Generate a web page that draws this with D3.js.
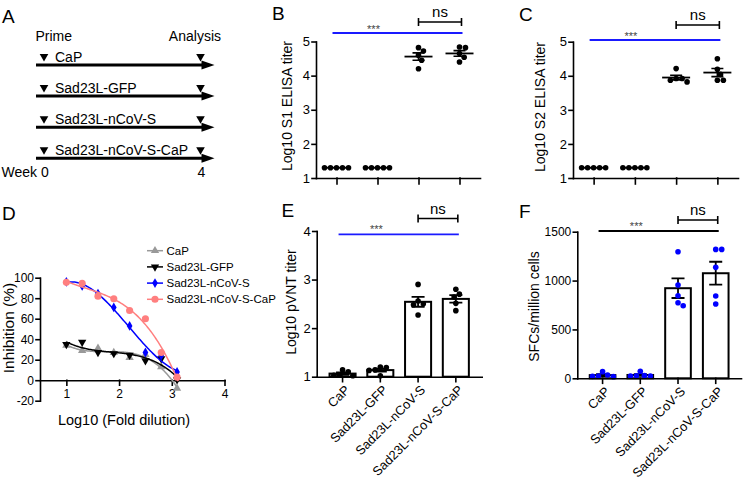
<!DOCTYPE html>
<html><head><meta charset="utf-8">
<script src="https://cdn.jsdelivr.net/npm/d3@7"></script>
<style>
body{margin:0;background:#fff;}
svg{display:block;}
</style></head><body>
<svg id="chart" width="751" height="479"></svg>
<script>
// ---------------- DATA ----------------
const groups = ["CaP", "Sad23L-GFP", "Sad23L-nCoV-S", "Sad23L-nCoV-S-CaP"];
const weeks = [0, 4];

// Panel B: Log10 S1 ELISA titer
const s1Titer = [
  [1.3, 1.3, 1.3, 1.3, 1.3],
  [1.3, 1.3, 1.3, 1.3, 1.3],
  [4.82, 4.72, 4.6, 4.45, 4.2],
  [4.84, 4.82, 4.65, 4.54, 4.4]
];
// Panel C: Log10 S2 ELISA titer
const s2Titer = [
  [1.3, 1.3, 1.3, 1.3, 1.3],
  [1.3, 1.3, 1.3, 1.3, 1.3],
  [4.21, 3.92, 3.92, 3.87, 3.82],
  [4.5, 4.19, 4.04, 3.87, 3.87]
];
// Panel D: inhibition curves
const logDilution = [1.0, 1.3, 1.6, 1.9, 2.2, 2.5, 2.8, 3.1];
const inhCaP   = [34, 29, 31, 27, 22, 25, 13, -8];
const inhGFP   = [35, 37, 27, 26, 24.5, 19, 21, 0.5];
const inhS     = [96, 92, 84.5, 71, 53, 27, 24, 8];
const inhSCaP  = [95.5, 94.5, 82, 79.5, 68, 60, 27, 3];
// Panel E: Log10 pVNT titer
const pvnt = [
  [1.14, 1.1, 1.03, 1.02, 1.03],
  [1.2, 1.19, 1.14, 1.13, 1.02],
  [2.9, 2.56, 2.5, 2.48, 2.27],
  [2.8, 2.7, 2.64, 2.51, 2.36]
];
// Panel F: SFCs/million cells
const sfc = [
  [68, 17, 23, 34, 20],
  [72, 23, 23, 27, 25],
  [1295, 954, 845, 773, 742],
  [1319, 1319, 1135, 842, 760]
];
const ticksB = [1, 2, 3, 4, 5];
const ticksD_x = [1, 2, 3, 4];
const ticksD_y = [-20, 0, 20, 40, 60, 80, 100];
const ticksE = [1, 2, 3, 4];
const ticksF = [0, 500, 1000, 1500];

// ---------------- HELPERS ----------------
const FONT = "'Liberation Sans', Arial, Helvetica, sans-serif";
const svg = d3.select("#chart").attr("font-family", FONT);
const R = 2.8;

function styleAxis(g, fs) {
  g.attr("font-family", FONT).attr("font-size", fs || 12);
  g.selectAll("path, line").attr("stroke", "#000").attr("stroke-width", 1.6).attr("stroke-linecap", "square");
  g.selectAll("text").attr("fill", "#000");
}

function swarmOffsets(pys, r) {
  const D = 2 * r;
  const placed = [];
  const offs = new Array(pys.length);
  const order = d3.range(pys.length).sort((a, b) => pys[a] - pys[b]);
  for (const i of order) {
    const y = pys[i];
    const cands = [0];
    placed.forEach(p => {
      const dy = Math.abs(p.y - y);
      if (dy < D) { const dx = Math.sqrt(D * D - dy * dy); cands.push(p.x + dx, p.x - dx); }
    });
    cands.sort((a, b) => (Math.abs(a) - Math.abs(b)) || (b - a));
    let best = 0;
    for (const c of cands) {
      if (placed.every(p => (p.x - c) ** 2 + (p.y - y) ** 2 >= D * D - 0.01)) { best = c; break; }
    }
    placed.push({ x: best, y }); offs[i] = best;
  }
  return offs;
}

function sem(v) { const d = d3.deviation(v); return d ? d / Math.sqrt(v.length) : 0; }

function sigMarks(g, cx, o) {
  const x0 = cx(groups[0]) - 4, x1 = cx(groups[3]) + 3;
  g.append("line").attr("x1", x0).attr("x2", x1).attr("y1", o.lineY).attr("y2", o.lineY)
    .attr("stroke", o.lineColor).attr("stroke-width", 1.8);
  g.append("text").attr("x", cx(groups[1]) - 4).attr("y", o.starY).attr("text-anchor", "middle")
    .attr("font-size", 11).attr("fill", "#444").text("***");
  const b0 = cx(groups[2]), b1 = cx(groups[3]) + 2, by = o.nsY;
  g.append("path").attr("d", `M${b0},${by - 4}V${by + 4}M${b0},${by}H${b1}M${b1},${by - 4}V${by + 4}`)
    .attr("stroke", "#000").attr("stroke-width", 1.6).attr("fill", "none");
  g.append("text").attr("x", (b0 + b1) / 2).attr("y", by - 5).attr("text-anchor", "middle")
    .attr("font-size", 15).attr("fill", "#000").text("ns");
}

function panelLetter(t, x, y) {
  svg.append("text").attr("x", x).attr("y", y).attr("font-size", 19).attr("fill", "#000").text(t);
}

function yTitle(t, x, y, fs) {
  svg.append("text").attr("transform", `translate(${x},${y}) rotate(-90)`).attr("text-anchor", "middle")
    .attr("font-size", fs || 14).attr("fill", "#000").text(t);
}

// ---------------- PANEL A ----------------
(function () {
  const g = svg.append("g");
  const wx = d3.scaleLinear().domain(weeks).range([44, 200.5]);
  const ly = d3.scalePoint().domain(groups).range([65, 158.3]);
  g.append("text").attr("x", 35.5).attr("y", 40.5).attr("font-size", 14).text("Prime");
  g.append("text").attr("x", 221).attr("y", 40.5).attr("text-anchor", "end").attr("font-size", 14).text("Analysis");
  groups.forEach(d => {
    const y = ly(d);
    g.append("line").attr("x1", wx(0) - 8).attr("x2", wx(4) + 4).attr("y1", y).attr("y2", y)
      .attr("stroke", "#000").attr("stroke-width", 3);
    g.append("path").attr("d", `M${wx(4) + 1},${y - 4.5}L${wx(4) + 14},${y}L${wx(4) + 1},${y + 4.5}Z`).attr("fill", "#000");
    weeks.forEach(w => {
      const x = wx(w);
      g.append("path").attr("d", `M${x - 4.3},${y - 11}L${x + 4.3},${y - 11}L${x},${y - 3.5}Z`).attr("fill", "#000");
    });
    g.append("text").attr("x", 55).attr("y", y - 3.3).attr("font-size", 14).text(d);
  });
  g.append("text").attr("x", 37).attr("y", 176.5).attr("text-anchor", "end").attr("font-size", 14).text("Week");
  weeks.forEach(w => {
    g.append("text").attr("x", wx(w) + 1).attr("y", 176.5).attr("text-anchor", "middle").attr("font-size", 14).text(w);
  });
})();
panelLetter("A", 2, 22.5);

// ---------------- PANELS B, C ----------------
function dotPanel(o) {
  const g = svg.append("g");
  const x = d3.scalePoint().domain(groups).range(o.xr).padding(0.5);
  const y = d3.scaleLinear().domain([1, 5]).range(o.yr);
  g.append("g").attr("transform", `translate(${o.xr[0]},0)`)
    .call(d3.axisLeft(y).tickValues(ticksB).tickFormat(d3.format("d")).tickSize(4).tickSizeOuter(0).tickPadding(2))
    .call(styleAxis, 13);
  g.append("g").attr("transform", `translate(0,${o.yr[0]})`)
    .call(d3.axisBottom(x).tickSize(6).tickSizeOuter(0).tickFormat(""))
    .call(styleAxis);
  o.data.forEach((vals, i) => {
    const cx = x(groups[i]);
    const m = d3.mean(vals), se = sem(vals);
    const pys = vals.map(y);
    const offs = swarmOffsets(pys, R + 0.2);
    g.append("line").attr("x1", cx - 14).attr("x2", cx + 14).attr("y1", y(m)).attr("y2", y(m))
      .attr("stroke", "#000").attr("stroke-width", 1.8);
    if (se > 0) {
      g.append("path").attr("d", `M${cx},${y(m - se)}V${y(m + se)}M${cx - 6},${y(m - se)}H${cx + 6}M${cx - 6},${y(m + se)}H${cx + 6}`)
        .attr("stroke", "#000").attr("stroke-width", 1.6).attr("fill", "none");
    }
    g.selectAll(null).data(vals).join("circle")
      .attr("cx", (d, j) => cx + offs[j]).attr("cy", d => y(d)).attr("r", R).attr("fill", "#000");
  });
  sigMarks(g, d => x(d), o.sig);
}

dotPanel({ data: s1Titer, xr: [316, 480], yr: [178, 41.5],
  sig: { lineY: 33, lineColor: "#1a1aff", starY: 33, nsY: 22 } });
yTitle("Log10 S1 ELISA titer", 292, 106, 14);
panelLetter("B", 272, 20);

dotPanel({ data: s2Titer, xr: [573, 738], yr: [178, 41.7],
  sig: { lineY: 40, lineColor: "#1a1aff", starY: 40, nsY: 25 } });
yTitle("Log10 S2 ELISA titer", 545, 107, 14);
panelLetter("C", 519, 20.5);

// ---------------- PANEL D ----------------
function polyfit(xs, ys, deg) {
  const n = deg + 1;
  const A = d3.range(n).map(() => new Array(n + 1).fill(0));
  xs.forEach((xv, i) => {
    for (let r = 0; r < n; r++) {
      for (let c = 0; c < n; c++) A[r][c] += Math.pow(xv, r + c);
      A[r][n] += ys[i] * Math.pow(xv, r);
    }
  });
  for (let c = 0; c < n; c++) {
    let p = c;
    for (let r = c + 1; r < n; r++) if (Math.abs(A[r][c]) > Math.abs(A[p][c])) p = r;
    [A[c], A[p]] = [A[p], A[c]];
    for (let r = 0; r < n; r++) {
      if (r !== c) { const f = A[r][c] / A[c][c]; for (let k = c; k <= n; k++) A[r][k] -= f * A[c][k]; }
    }
  }
  const coef = A.map((row, i) => row[n] / row[i]);
  return xv => coef.reduce((s, cf, k) => s + cf * Math.pow(xv, k), 0);
}

(function () {
  const g = svg.append("g");
  const x = d3.scaleLinear().domain([0.5, 4]).range([40, 224.5]);
  const y = d3.scaleLinear().domain([-20, 100]).range([400.7, 277.7]);
  g.append("g").attr("transform", `translate(40,0)`)
    .call(d3.axisLeft(y).tickValues(ticksD_y).tickFormat(d => String(d)).tickSize(4).tickSizeOuter(0).tickPadding(2))
    .call(styleAxis, 12);
  g.append("g").attr("transform", `translate(0,${y(0)})`)
    .call(d3.axisBottom(x).tickValues(ticksD_x).tickFormat(d => String(d)).tickSize(5).tickSizeOuter(0).tickPadding(4))
    .call(styleAxis, 12);

  const series = [
    { name: groups[0], vals: inhCaP, color: "#999999", sym: d3.symbolTriangle, rot: 0, size: 30 },
    { name: groups[1], vals: inhGFP, color: "#000000", sym: d3.symbolTriangle, rot: 180, size: 30 },
    { name: groups[2], vals: inhS, color: "#0000ff", sym: d3.symbolDiamond, rot: 0, size: 28 },
    { name: groups[3], vals: inhSCaP, color: "#ff7f7f", sym: d3.symbolCircle, rot: 0, size: 40 }
  ];
  const xsCurve = d3.range(1, 3.121, 0.02);
  const line = d3.line().x(d => x(d[0])).y(d => y(d[1]));
  series.forEach(s => {
    const f = polyfit(logDilution, s.vals, 3);
    g.append("path").attr("d", line(xsCurve.map(v => [v, f(v)])))
      .attr("fill", "none").attr("stroke", s.color).attr("stroke-width", 1.5);
    g.selectAll(null).data(s.vals).join("path")
      .attr("d", d3.symbol(s.sym, s.size))
      .attr("transform", (d, i) => `translate(${x(logDilution[i])},${y(d)}) rotate(${s.rot})`)
      .attr("fill", s.color);
  });
  // legend
  const lg = d3.scalePoint().domain(groups).range([250.7, 299.3]);
  series.forEach(s => {
    const ly = lg(s.name);
    g.append("line").attr("x1", 147).attr("x2", 163).attr("y1", ly).attr("y2", ly)
      .attr("stroke", s.color).attr("stroke-width", 1.5);
    g.append("path").attr("d", d3.symbol(s.sym, s.size)).attr("transform", `translate(155,${ly}) rotate(${s.rot})`).attr("fill", s.color);
    g.append("text").attr("x", 166.5).attr("y", ly + 4).attr("font-size", 11.5).attr("fill", "#000").text(s.name);
  });
  g.append("text").attr("x", 124).attr("y", 425).attr("text-anchor", "middle").attr("font-size", 14.5).text("Log10 (Fold dilution)");
})();
yTitle("Inhibition (%)", 14, 328, 15.5);
panelLetter("D", 2, 219.5);

// ---------------- PANELS E, F ----------------
function barPanel(o) {
  const g = svg.append("g");
  const x = d3.scaleBand().domain(groups).range(o.xr).paddingInner(o.pi).paddingOuter(o.po);
  const bw = x.bandwidth();
  const cx = d => x(d) + bw / 2;
  const y = d3.scaleLinear().domain(o.yd).range(o.yr);
  g.append("g").attr("transform", `translate(${o.xr[0]},0)`)
    .call(d3.axisLeft(y).tickValues(o.ticks).tickFormat(d3.format("d")).tickSize(4).tickSizeOuter(0).tickPadding(2))
    .call(styleAxis, o.tfs);
  o.data.forEach((vals, i) => {
    const c = cx(groups[i]);
    const m = d3.mean(vals), se = sem(vals);
    g.append("rect").attr("x", x(groups[i])).attr("width", bw)
      .attr("y", y(m)).attr("height", y(o.yd[0]) - y(m))
      .attr("fill", "#fff").attr("stroke", "#000").attr("stroke-width", 2);
    g.append("path").attr("d", `M${c},${y(m - se)}V${y(m + se)}M${c - 6.5},${y(m - se)}H${c + 6.5}M${c - 6.5},${y(m + se)}H${c + 6.5}`)
      .attr("stroke", "#000").attr("stroke-width", 1.8).attr("fill", "none");
    const pys = vals.map(y);
    const offs = swarmOffsets(pys, R + 0.2);
    g.selectAll(null).data(vals).join("circle")
      .attr("cx", (d, j) => c + offs[j]).attr("cy", d => y(d)).attr("r", R).attr("fill", o.dotColor);
  });
  g.append("g").attr("transform", `translate(0,${o.yr[0]})`)
    .call(d3.axisBottom(x).tickSize(5).tickSizeOuter(0).tickFormat(""))
    .call(styleAxis);
  g.selectAll(null).data(groups).join("text")
    .attr("transform", d => `translate(${cx(d) + 8},${o.yr[0] + 14}) rotate(-45)`)
    .attr("text-anchor", "end").attr("font-size", 12.8).attr("fill", "#000").text(d => d);
  sigMarks(g, cx, o.sig);
}

barPanel({ data: pvnt, xr: [316.7, 481.7], pi: 0.31, po: 0.34, yd: [1, 4], yr: [376.7, 231], ticks: ticksE, tfs: 13,
  dotColor: "#000", sig: { lineY: 234.3, lineColor: "#1a1aff", starY: 233, nsY: 218.5 } });
yTitle("Log10 pVNT titer", 296, 302, 14);
panelLetter("E", 281.5, 217);

barPanel({ data: sfc, xr: [577.3, 741], pi: 0.32, po: 0.33, yd: [0, 1500], yr: [378.3, 231.7], ticks: ticksF, tfs: 12,
  dotColor: "#0000ff", sig: { lineY: 231, lineColor: "#000", starY: 230, nsY: 220 } });
yTitle("SFCs/million cells", 539, 306.5, 14);
panelLetter("F", 519, 218);
</script>
</body></html>
